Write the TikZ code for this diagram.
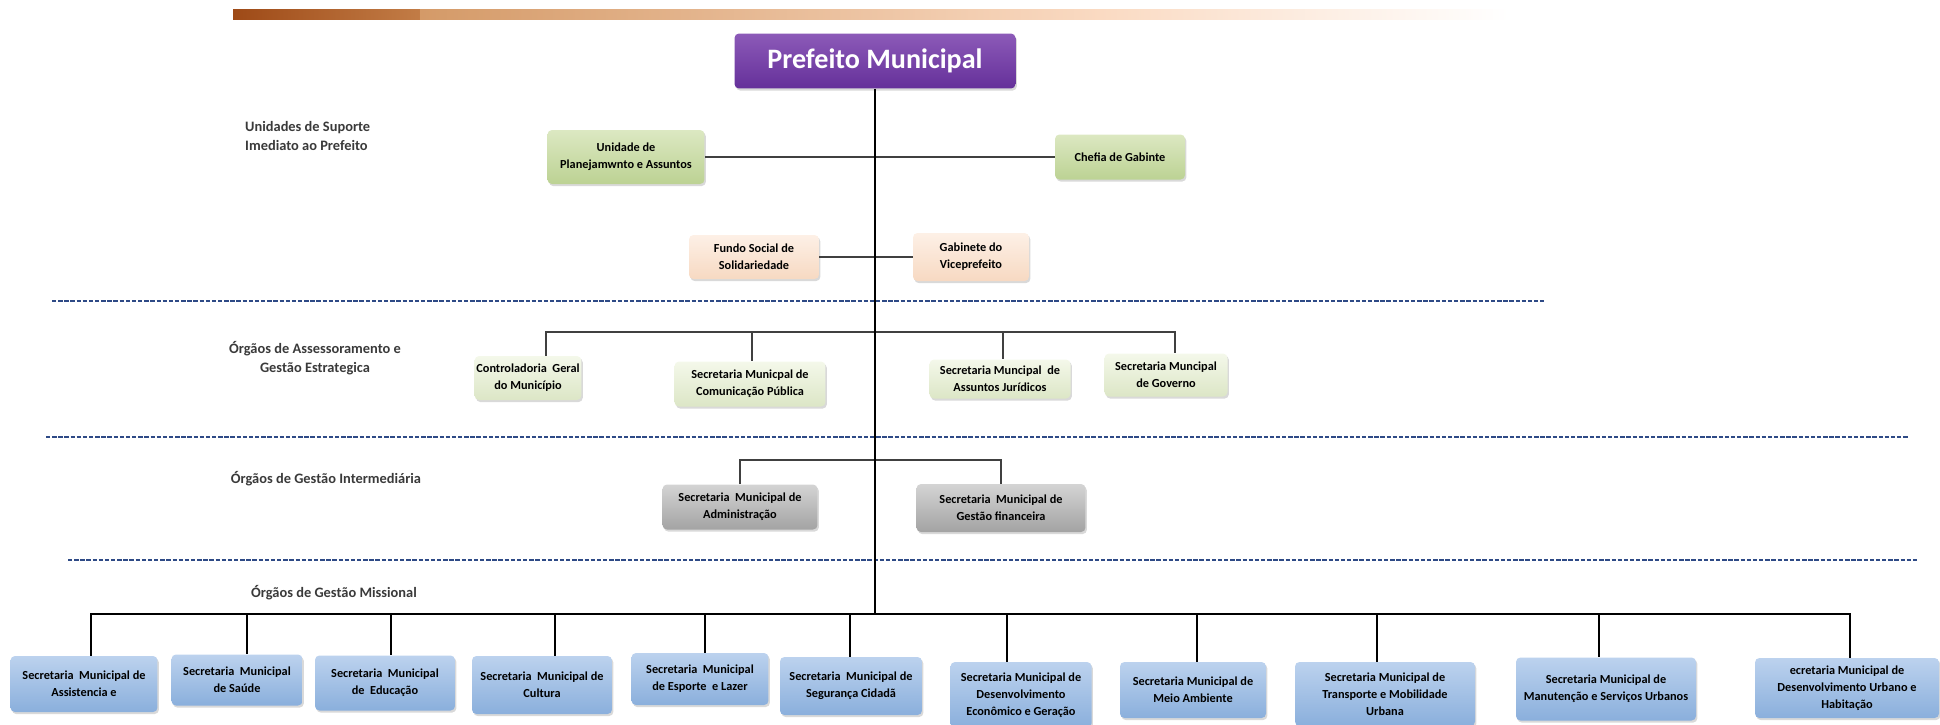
\documentclass[tikz,border=0pt]{standalone}
\usepackage{fontspec}
\setmainfont{Carlito}
\usetikzlibrary{shadows}

\definecolor{roxoA}{HTML}{8C5AB8}
\definecolor{roxoB}{HTML}{65309A}
\definecolor{verdeA}{HTML}{DCE8C2}
\definecolor{verdeB}{HTML}{BCD293}
\definecolor{pessegoA}{HTML}{FDF0E6}
\definecolor{pessegoB}{HTML}{F7D9C2}
\definecolor{claroA}{HTML}{F4F8EA}
\definecolor{claroB}{HTML}{DCE6C6}
\definecolor{cinzaA}{HTML}{D4D4D4}
\definecolor{cinzaB}{HTML}{A3A3A3}
\definecolor{azulA}{HTML}{BCD2EE}
\definecolor{azulB}{HTML}{8AAFDC}
\definecolor{tracejado}{HTML}{2E4A86}
\definecolor{texto}{HTML}{3A3A3A}

\tikzset{
  caixa/.style={rounded corners=2.5pt, align=center, inner sep=1pt,
    font=\bfseries\fontsize{7}{9.6}\selectfont,
    drop shadow={opacity=0.3, shadow xshift=0.8pt, shadow yshift=-1.2pt}},
  chefe/.style={caixa, top color=roxoA, bottom color=roxoB, text=white,
    font=\bfseries\fontsize{16}{19}\selectfont},
  verde/.style={caixa, top color=verdeA, bottom color=verdeB},
  pessego/.style={caixa, top color=pessegoA, bottom color=pessegoB},
  claro/.style={caixa, top color=claroA, bottom color=claroB},
  cinza/.style={caixa, top color=cinzaA, bottom color=cinzaB},
  azul/.style={caixa, top color=azulA, bottom color=azulB},
  rotulo/.style={align=center, text=texto, font=\bfseries\fontsize{8.2}{10.5}\selectfont},
  link/.style={line width=1pt, black},
  linkfino/.style={line width=1.1pt, black!75},
  barra/.style={line width=1.4pt, black},
  divisa/.style={tracejado, line width=1.5pt, dash pattern=on 2.5pt off 1pt}
}

\begin{document}
\begin{tikzpicture}[x=0.02cm,y=-0.02cm]%[scale=0.8]
%\draw [help lines] (0,0) grid (1940,724);
\useasboundingbox (0,0) rectangle (1940,724);
% faixa do topo
\shade [left color={rgb,255:red,158;green,74;blue,23}, right color={rgb,255:red,194;green,124;blue,70}] (233,9) rectangle (420,19);
\shade [left color={rgb,255:red,212;green,154;blue,104}, right color={rgb,255:red,250;green,218;blue,194}] (420,9) rectangle (1100,19);
\shade [left color={rgb,255:red,250;green,218;blue,194}, right color=white] (1100,9) rectangle (1509,19);

\node [chefe, minimum width=5.62cm, minimum height=1.1cm] (pm) at (875,61) {Prefeito Municipal};

% suporte imediato
\node [rotulo, align=left, anchor=west] (sup) at (239,136) {Unidades de Suporte\\Imediato ao Prefeito};
\node [verde, minimum width=3.14cm, minimum height=1.08cm] (upa) at (626,157) {Unidade de\\Planejamwnto e Assuntos};
\node [verde, minimum width=2.6cm, minimum height=0.9cm] (chefia) at (1120,157) {Chefia de Gabinte};
\node [pessego, minimum width=2.6cm, minimum height=0.88cm] (fundo) at (754,257) {Fundo Social de\\Solidariedade};
\node [pessego, minimum width=2.32cm, minimum height=0.96cm] (vice) at (971,257) {Gabinete do\\Viceprefeito};
\draw [linkfino] (upa) -- (chefia);
\draw [linkfino] (fundo) -- (vice);

\draw [divisa] (52,301) -- (1544,301);

% assessoramento
\node [rotulo] (ass) at (315,358) {Órgãos de Assessoramento e\\Gestão Estrategica};
\node [claro, minimum width=2.1cm, minimum height=0.88cm] (ctrl) at (528,378) {Controladoria\ \ Geral\\do Município};
\node [claro, minimum width=3.02cm, minimum height=0.9cm] (comun) at (750,384) {Secretaria Municpal de\\Comunicação Pública};
\node [claro, minimum width=2.82cm, minimum height=0.78cm] (jurid) at (1000,379) {Secretaria Muncipal\ \ de\\Assuntos Jurídicos};
\node [claro, minimum width=2.46cm, minimum height=0.86cm] (gov) at (1166,375) {Secretaria Muncipal\\de Governo};
\draw [linkfino] (ctrl.north -| 546,0) -- (546,332) -- (1175,332) -- (gov.north -| 1175,0);
\foreach \n/\x in {comun/752, jurid/1003}
  \draw [linkfino] (\x,332) -- (\n.north -| \x,0);

\draw [divisa] (46,437) -- (1909,437);

% intermediaria
\node [rotulo] (inter) at (326,479) {Órgãos de Gestão Intermediária};
\node [cinza, minimum width=3.1cm, minimum height=0.9cm] (adm) at (740,507) {Secretaria\ \ Municipal de\\Administração};
\node [cinza, minimum width=3.38cm, minimum height=0.96cm] (fin) at (1001,508) {Secretaria\ \ Municipal de\\Gestão financeira};
\draw [linkfino] (adm.north -| 740,0) -- (740,460) -- (1001,460) -- (fin.north -| 1001,0);

\draw [divisa] (68,560) -- (1918,560);

% missional
\node [rotulo] (miss) at (334,593) {Órgãos de Gestão Missional};
\node [azul, minimum width=2.94cm, minimum height=1.12cm] (assist) at (84,684) {Secretaria\ \ Municipal de\\Assistencia e};
\node [azul, minimum width=2.62cm, minimum height=1.02cm] (saude) at (237,680) {Secretaria\ \ Municipal\\de Saúde};
\node [azul, minimum width=2.8cm, minimum height=1.1cm] (educ) at (385,683) {Secretaria\ \ Municipal\\de\ \ Educação};
\node [azul, minimum width=2.8cm, minimum height=1.16cm] (cult) at (542,685) {Secretaria\ \ Municipal de\\Cultura};
\node [azul, minimum width=2.74cm, minimum height=1.04cm] (esp) at (700,679) {Secretaria\ \ Municipal\\de Esporte\ \ e Lazer};
\node [azul, minimum width=2.84cm, minimum height=1.16cm] (seg) at (851,686) {Secretaria\ \ Municipal de\\Segurança Cidadã};
\node [azul, minimum width=2.82cm, minimum height=1.32cm] (deco) at (1021,695) {Secretaria Municipal de\\Desenvolvimento\\Econômico e Geração};
\node [azul, minimum width=2.92cm, minimum height=1.12cm] (meio) at (1193,690) {Secretaria Municipal de\\Meio Ambiente};
\node [azul, minimum width=3.6cm, minimum height=1.28cm] (trans) at (1385,694) {Secretaria Municipal de\\Transporte e Mobilidade\\Urbana};
\node [azul, minimum width=3.6cm, minimum height=1.26cm] (manut) at (1606,689) {Secretaria Municipal de\\Manutenção e Serviços Urbanos};
\node [azul, minimum width=3.68cm, minimum height=1.2cm] (durb) at (1847,688) {ecretaria Municipal de\\Desenvolvimento Urbano e\\Habitação};
\draw [barra] (assist.north -| 91,0) -- (91,614) -- (1850,614) -- (durb.north -| 1850,0);
\foreach \n/\x in {saude/247, educ/391, cult/555, esp/705, seg/850, deco/1007, meio/1197, trans/1377, manut/1599}
  \draw [barra] (\x,614) -- (\n.north -| \x,0);

% tronco
\draw [link] (pm) -- (875,614);
\end{tikzpicture}
\end{document}
